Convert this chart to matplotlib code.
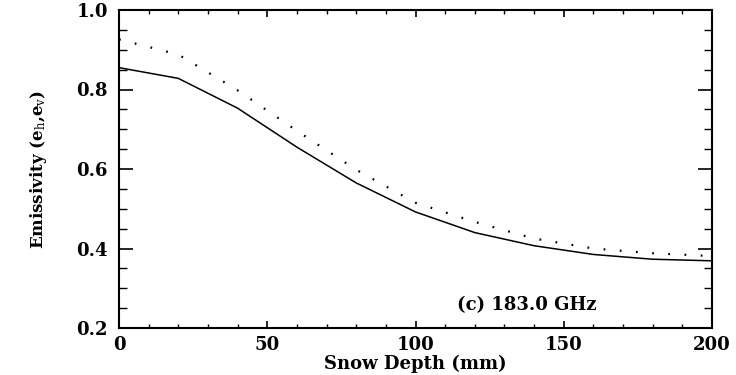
import matplotlib
matplotlib.use("Agg")
import matplotlib.pyplot as plt
from matplotlib.ticker import MultipleLocator

depth = [0, 20, 40, 60, 80, 100, 120, 140, 160, 180, 200]
e_solid = [0.855, 0.828, 0.753, 0.655, 0.565, 0.492, 0.440, 0.407, 0.385, 0.373, 0.369]
e_dotted = [0.926, 0.888, 0.798, 0.696, 0.598, 0.515, 0.467, 0.425, 0.400, 0.388, 0.381]

x_ticks = [0, 50, 100, 150, 200]
y_ticks = [0.2, 0.4, 0.6, 0.8, 1.0]
xlabel = "Snow Depth (mm)"
ylabel = "Emissivity (e$_\\mathrm{h}$,e$_\\mathrm{v}$)"
annotation = "(c) 183.0 GHz"

plt.rcParams['font.family'] = ['DejaVu Serif']
plt.rcParams['mathtext.fontset'] = 'dejavuserif'

fig = plt.figure(figsize=(7.36, 3.75), dpi=100)
ax = fig.add_axes([119/736, 47/375, (712-119)/736, (328-10)/375])

ax.plot(depth, e_solid, color='black', lw=1.1, linestyle='-')
ax.plot(depth, e_dotted, color='black', lw=1.6, linestyle=(0, (0.8, 6.5)))

ax.set_xlim(0, 200)
ax.set_ylim(0.2, 1.0)
ax.set_xticks(x_ticks)
ax.set_yticks(y_ticks)
ax.set_xticklabels([str(v) for v in x_ticks], fontsize=13, fontweight='bold')
ax.set_yticklabels([f"{v:.1f}" for v in y_ticks], fontsize=13, fontweight='bold')
ax.xaxis.set_minor_locator(MultipleLocator(10))
ax.yaxis.set_minor_locator(MultipleLocator(0.05))

ax.tick_params(axis='x', which='major', direction='in', top=True, length=5, width=1.2, pad=6)
ax.tick_params(axis='x', which='minor', direction='in', top=True, length=3, width=1.0)
ax.tick_params(axis='y', which='major', direction='in', right=True, length=10, width=1.2, pad=8)
ax.tick_params(axis='y', which='minor', direction='in', right=True, length=6, width=1.0)

for s in ax.spines.values():
    s.set_linewidth(1.5)

ax.set_xlabel(xlabel, fontsize=13, fontweight='bold', labelpad=0)
ax.set_ylabel(ylabel, fontsize=12, fontweight='bold', labelpad=20)

ax.text(137.5, 0.258, annotation, fontsize=13, fontweight='bold', ha='center', va='center')

fig.savefig("out.png", dpi=100)
